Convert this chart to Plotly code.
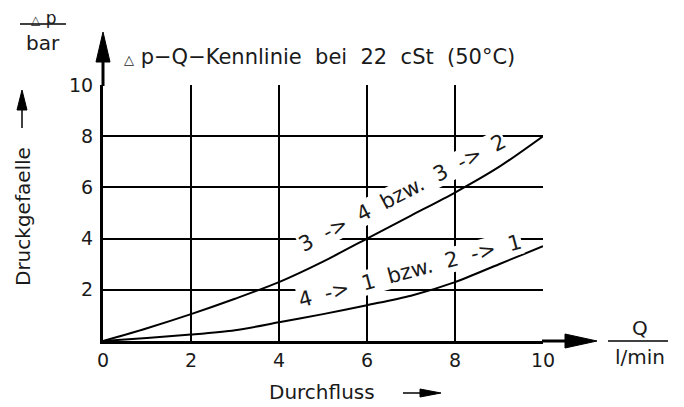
import plotly.graph_objects as go

# flow Q in l/min and pressure drop in bar
flow = [0, 1, 2, 3, 4, 5, 6, 7, 8, 9, 10]
dp_3_4 = [0, 0.5, 1.05, 1.65, 2.3, 3.1, 4.0, 4.9, 5.8, 6.8, 8.0]
dp_4_1 = [0, 0.12, 0.25, 0.42, 0.73, 1.05, 1.4, 1.77, 2.3, 3.0, 3.7]

ticks = [0, 2, 4, 6, 8, 10]

W, H = 684, 407
OFF = 8  # the page body adds an 8px margin around the figure
FONT = "DejaVu Sans"
INK = "#1a1a1a"
NB = "\u00a0"


def px(x):
    return (x - OFF) / W


def py(y):
    return 1 - (y - OFF) / H


fig = go.Figure()

for ys in (dp_3_4, dp_4_1):
    fig.add_trace(go.Scatter(x=flow, y=ys, mode="lines",
                             line=dict(color="black", width=2, shape="spline", smoothing=0.8),
                             showlegend=False, hoverinfo="skip"))

fig.update_layout(
    width=W, height=H,
    margin=dict(l=0, r=0, t=0, b=0),
    plot_bgcolor="white", paper_bgcolor="white",
    font=dict(family=FONT, color=INK),
    xaxis=dict(domain=[px(103), px(543)], range=[0, 10], tickvals=ticks, automargin=False,
               showgrid=True, gridcolor="black", gridwidth=1.5, zeroline=False,
               showline=True, linecolor="black", linewidth=3,
               ticks="outside", ticklen=0, tickfont=dict(size=19, color=INK)),
    yaxis=dict(domain=[py(341), py(85)], range=[0, 10], tickvals=ticks[1:], automargin=False,
               showgrid=True, gridcolor="black", gridwidth=1.5, zeroline=False,
               showline=True, linecolor="black", linewidth=3, ticklabelstandoff=3,
               ticks="outside", ticklen=0, tickfont=dict(size=19, color=INK)),
)

shapes = []


def seg(x0, y0, x1, y1, w):
    shapes.append(dict(type="line", xref="paper", yref="paper",
                       x0=px(x0), y0=py(y0), x1=px(x1), y1=py(y1),
                       line=dict(color="black", width=w)))


def head(pts):
    d = "M " + " L ".join(f"{px(a)},{py(b)}" for a, b in pts) + " Z"
    shapes.append(dict(type="path", xref="paper", yref="paper", path=d,
                       fillcolor="black", line=dict(color="black", width=1)))


# axis extensions with arrow heads
seg(103, 86, 103, 60, 3)
head([(103, 32), (96, 62), (110, 62)])
seg(542, 341, 567, 341, 3)
head([(597, 341), (565, 334), (565, 348)])
# fraction bars of the unit labels
seg(20, 24, 66, 24, 1.5)
seg(608, 341, 668, 341, 1.5)
# small arrows next to the axis titles
seg(22, 128, 22, 108, 1.5)
head([(22, 90), (17, 110), (27, 110)])
seg(403, 393, 422, 393, 1.5)
head([(441, 393), (420, 389), (420, 397)])

fig.update_layout(shapes=shapes)


def label(x, y, text, size=20, **kw):
    fig.add_annotation(xref="paper", yref="paper", x=px(x), y=py(y), text=text,
                       showarrow=False, font=dict(size=size, color=INK), **kw)


tri = "<span style='font-size:12px'>△</span>"
label(43, 18, tri + NB + "p", size=17, borderpad=0, xanchor="center", yanchor="middle")
label(43, 43, "bar", xanchor="center", yanchor="middle")
label(640, 328, "Q", xanchor="center", yanchor="middle")
label(640, 357, "l/min", xanchor="center", yanchor="middle")
label(23, 217, "Druckgefaelle", textangle=-90, xanchor="center", yanchor="middle")
label(322, 392, "Durchfluss", xanchor="center", yanchor="middle")
label(122, 57, "<span style='font-size:13px'>△</span>" + NB + "p−Q−Kennlinie" + NB * 2 + "bei" + NB * 2 + "22"
      + NB * 2 + "cSt" + NB * 2 + "(50°C)", size=21, xanchor="left", yanchor="middle")


def caption(parts):
    return (NB * 2).join(parts)


# curve captions, sitting on white so the grid is broken behind them
fig.add_annotation(x=6.8, y=5.8, text=caption(["3", "->", "4", "bzw.", "3", "->", "2"]),
                   showarrow=False, textangle=-27.5, bgcolor="white", borderpad=0,
                   font=dict(size=21, color=INK))
fig.add_annotation(x=6.98, y=2.72, text=caption(["4", "->", "1", "bzw.", "2", "->", "1"]),
                   showarrow=False, textangle=-15, bgcolor="white", borderpad=0,
                   font=dict(size=21, color=INK))

fig.write_html("out.html")
